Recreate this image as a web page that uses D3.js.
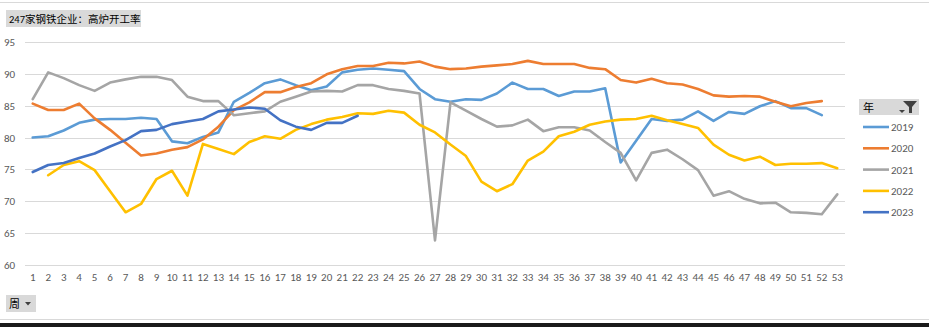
<!DOCTYPE html>
<html><head><meta charset="utf-8">
<script src="https://cdn.jsdelivr.net/npm/d3@7"></script>
<style>
body{margin:0;background:#fff;}
text{font-family:Calibri,"Liberation Sans","Noto Sans CJK SC",sans-serif;}
</style></head>
<body><svg id="c" width="929" height="327"></svg>
<script>
const title = "247家钢铁企业：高炉开工率";
const weeks = d3.range(1, 54);
const yTicks = [60, 65, 70, 75, 80, 85, 90, 95];
const years = ["2019", "2020", "2021", "2022", "2023"];
const colors = ["#5B9BD5", "#ED7D31", "#A5A5A5", "#FFC000", "#4472C4"];

const v2019 = [80.0,80.2,81.1,82.3,82.8,82.9,82.9,83.1,82.9,79.4,79.1,80.1,80.8,85.6,87.0,88.5,89.1,88.2,87.4,88.0,90.2,90.6,90.8,90.6,90.4,87.6,86.0,85.6,86.0,85.9,86.9,88.6,87.6,87.6,86.5,87.2,87.2,87.7,76.1,79.5,82.9,82.6,82.8,84.1,82.6,84.0,83.7,84.9,85.7,84.6,84.6,83.5,null];
const v2020 = [85.3,84.3,84.3,85.3,83.0,81.2,79.2,77.2,77.5,78.1,78.5,79.7,81.7,84.3,85.5,87.1,87.1,87.9,88.5,89.9,90.7,91.2,91.2,91.7,91.6,91.9,91.1,90.7,90.8,91.1,91.3,91.5,92.0,91.5,91.5,91.5,90.9,90.7,89.0,88.6,89.2,88.5,88.3,87.6,86.6,86.4,86.5,86.4,85.6,84.9,85.4,85.7,null];
const v2021 = [86.0,90.2,89.3,88.2,87.3,88.6,89.1,89.5,89.5,89.0,86.4,85.7,85.7,83.5,83.8,84.1,85.6,86.4,87.2,87.3,87.2,88.2,88.2,87.6,87.3,86.9,63.9,85.5,84.2,82.9,81.7,81.9,82.8,81.0,81.6,81.6,81.1,79.3,77.6,73.3,77.6,78.1,76.6,74.9,70.9,71.6,70.4,69.7,69.8,68.3,68.2,68.0,71.1];
const v2022 = [null,74.1,75.7,76.3,74.9,71.6,68.3,69.6,73.5,74.8,70.9,79.0,78.2,77.4,79.3,80.2,79.8,81.2,82.1,82.8,83.2,83.8,83.7,84.2,83.9,82.0,80.8,78.9,77.1,73.1,71.6,72.7,76.4,77.8,80.2,80.9,82.0,82.5,82.8,82.9,83.4,82.7,82.1,81.5,78.9,77.3,76.4,77.0,75.7,75.9,75.9,76.0,75.2];
const v2023 = [74.6,75.7,76.0,76.8,77.5,78.6,79.6,81.0,81.2,82.1,82.5,82.9,84.1,84.4,84.7,84.5,82.7,81.7,81.2,82.3,82.3,83.4];
const series = [v2019, v2020, v2021, v2022, v2023];

const svg = d3.select("#c");
// frame lines
svg.append("line").attr("x1",0).attr("x2",929).attr("y1",2.5).attr("y2",2.5).attr("stroke","#d9d9d9").attr("stroke-width",1);
svg.append("line").attr("x1",0).attr("x2",929).attr("y1",319.5).attr("y2",319.5).attr("stroke","#d9d9d9").attr("stroke-width",1);
svg.append("rect").attr("x",0).attr("y",323).attr("width",929).attr("height",4).attr("fill","#1a1a1a");

// title button
svg.append("rect").attr("x",6).attr("y",10).attr("width",135).attr("height",17).attr("fill","#d9d9d9");
svg.append("text").attr("x",9).attr("y",22.5).attr("font-size",10.5).attr("fill","#000").text(title);

const x = d3.scaleBand().domain(weeks).range([25, 845]);
const y = d3.scaleLinear().domain([60, 95]).range([265.3, 41.7]);

// grid
svg.append("g").selectAll("line").data(yTicks).join("line")
  .attr("x1",25).attr("x2",845).attr("y1",d=>Math.round(y(d))+0.5).attr("y2",d=>Math.round(y(d))+0.5)
  .attr("stroke","#d9d9d9").attr("stroke-width",1);

// y labels
svg.append("g").selectAll("text").data(yTicks).join("text")
  .attr("x",4).attr("y",d=>y(d)+4).attr("font-size",11).attr("fill","#595959").text(d=>d);

// x labels
const xa = svg.append("g").attr("transform","translate(0,265)").call(d3.axisBottom(x).tickSize(0).tickPadding(8));
xa.select(".domain").remove();
xa.selectAll("text").attr("font-size",11).attr("fill","#595959").attr("font-family","Calibri,'Liberation Sans',sans-serif");

// lines
const line = d3.line().defined(d=>d[1]!=null).x(d=>x(d[0])+x.bandwidth()/2).y(d=>y(d[1]));
series.forEach((s,i)=>{
  svg.append("path").datum(s.map((v,j)=>[weeks[j], v]))
    .attr("d", line).attr("fill","none").attr("stroke",colors[i]).attr("stroke-width",2.6)
    .attr("stroke-linejoin","round").attr("stroke-linecap","round");
});

// legend header
svg.append("rect").attr("x",859).attr("y",99).attr("width",60).attr("height",16).attr("fill","#d9d9d9");
svg.append("text").attr("x",863).attr("y",111.5).attr("font-size",11).attr("fill","#000").text("年");
svg.append("path").attr("d","M903,101 L917,101 L912,107 L912,113 L909,113 L909,107 Z").attr("fill","#404040");
svg.append("path").attr("d","M899,110 L905,110 L902,113 Z").attr("fill","#404040");

const lg = svg.append("g").selectAll("g").data(years).join("g")
  .attr("transform",(d,i)=>`translate(0,${127 + i*21.3})`);
lg.append("line").attr("x1",863).attr("x2",889).attr("y1",0).attr("y2",0)
  .attr("stroke",(d,i)=>colors[i]).attr("stroke-width",2.6);
lg.append("text").attr("x",891).attr("y",4).attr("font-size",11).attr("fill","#595959").text(d=>d);

// bottom field button
svg.append("rect").attr("x",6).attr("y",295).attr("width",30).attr("height",17).attr("fill","#d9d9d9");
svg.append("text").attr("x",9).attr("y",308).attr("font-size",11).attr("fill","#000").text("周");
svg.append("path").attr("d","M25,302 L31,302 L28,305.5 Z").attr("fill","#404040");
</script></body></html>
